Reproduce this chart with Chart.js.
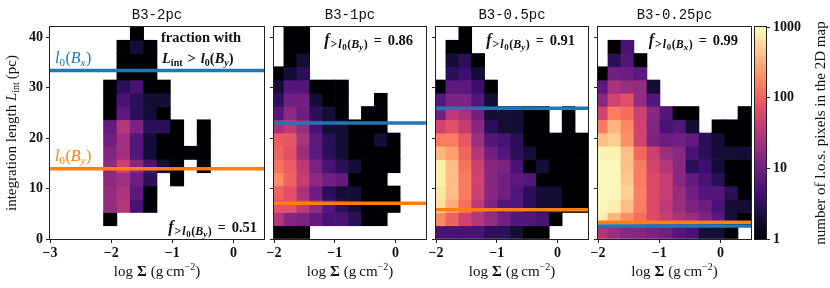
<!DOCTYPE html>
<html>
<head>
<meta charset="utf-8">
<script src="https://cdn.jsdelivr.net/npm/chart.js@4.4.0/dist/chart.umd.min.js"></script>
<style>
  html, body { margin: 0; padding: 0; background: #fff; }
  #wrap { position: relative; width: 830px; height: 288px; }
  #wrap canvas { position: absolute; left: 0; top: 0; }
</style>
</head>
<body>
<div id="wrap">
  <canvas id="p0" width="830" height="288"></canvas>
  <canvas id="p1" width="830" height="288"></canvas>
  <canvas id="p2" width="830" height="288"></canvas>
  <canvas id="p3" width="830" height="288"></canvas>
  <canvas id="cb" width="830" height="288"></canvas>
</div>
<script>
// panel setup
var panelTitles = ['B3-2pc', 'B3-1pc', 'B3-0.5pc', 'B3-0.25pc'];
var xMin = [-3, -2, -2, -2];
var xMax = [0.5, 0.5, 0.5, 0.5];
var xTicks = [[-3, -2, -1, 0], [-2, -1, 0], [-2, -1, 0], [-2, -1, 0]];
var yTicks = [0, 10, 20, 30, 40];
var yMax = 42;
var cbTicks = [1, 10, 100, 1000];

// histogram bins: left edge of the first stored column, column width, row height
var xBinStart = [-2.125, -2.05, -2.05, -2.05];
var xBinWidth = [0.21875, 0.2125, 0.2125, 0.2125];
var yBinWidth = 2.625;

// horizontal reference lengths (pc)
var lBx = [33.4, 23.0, 25.9, 2.6];
var lBy = [13.9, 7.1, 5.8, 3.3];
var fractions = ['0.51', '0.86', '0.91', '0.99'];
var fracSub = ['y', 'y', 'y', 'x'];

// pixel counts, row 0 = bottom (0 = empty)
var counts2pc = [
  [0, 0, 0, 0, 0, 0, 0, 0],
  [1, 0, 0, 0, 0, 0, 0, 0],
  [18, 30, 5, 1, 0, 0, 0, 0],
  [18, 28, 7, 1, 0, 0, 0, 0],
  [16, 22, 9, 3, 0, 1, 0, 0],
  [16, 45, 14, 5, 2, 1, 0, 1],
  [13, 22, 6, 2, 1, 1, 1, 1],
  [10, 22, 6, 2, 1, 1, 0, 1],
  [8, 30, 12, 3, 3, 1, 0, 1],
  [1, 7, 3, 2, 1, 0, 0, 0],
  [1, 5, 3, 2, 2, 0, 0, 0],
  [1, 3, 5, 1, 1, 0, 0, 0],
  [0, 1, 1, 1, 0, 0, 0, 0],
  [0, 1, 1, 1, 0, 0, 0, 0],
  [0, 1, 2, 1, 0, 0, 0, 0],
  [0, 0, 1, 0, 0, 0, 0, 0]
];
var counts1pc = [
  [1, 1, 1, 0, 0, 0, 0, 0, 0, 0],
  [30, 14, 12, 8, 5, 5, 3, 1, 1, 0],
  [70, 70, 35, 16, 6, 3, 2, 1, 1, 1],
  [100, 70, 25, 9, 3, 2, 2, 1, 1, 1],
  [190, 100, 40, 16, 10, 8, 1, 1, 1, 0],
  [130, 90, 35, 11, 5, 3, 2, 1, 1, 1],
  [100, 70, 20, 7, 3, 2, 1, 1, 1, 1],
  [90, 80, 25, 7, 3, 2, 1, 1, 2, 1],
  [25, 35, 18, 5, 2, 2, 1, 1, 1, 0],
  [6, 16, 9, 3, 2, 1, 0, 1, 1, 0],
  [3, 10, 10, 2, 1, 1, 0, 0, 1, 0],
  [2, 6, 6, 1, 1, 1, 0, 0, 0, 0],
  [1, 2, 3, 0, 0, 0, 0, 0, 0, 0],
  [0, 1, 2, 0, 0, 0, 0, 0, 0, 0],
  [0, 1, 1, 0, 0, 0, 0, 0, 0, 0],
  [0, 1, 1, 0, 0, 0, 0, 0, 0, 0]
];
var counts05pc = [
  [5, 5, 5, 5, 3, 3, 2, 1, 1, 0, 0, 0],
  [180, 100, 50, 30, 18, 10, 6, 6, 5, 1, 0, 0],
  [600, 300, 120, 35, 12, 6, 6, 3, 2, 2, 1, 1],
  [700, 400, 150, 45, 15, 10, 6, 3, 2, 2, 1, 1],
  [800, 400, 150, 50, 15, 10, 7, 6, 1, 1, 1, 1],
  [800, 400, 130, 45, 15, 12, 5, 1, 2, 1, 1, 1],
  [350, 250, 100, 30, 10, 6, 3, 2, 1, 1, 1, 1],
  [150, 150, 80, 20, 6, 5, 3, 1, 1, 1, 1, 1],
  [50, 70, 40, 15, 3, 2, 2, 1, 1, 0, 1, 0],
  [10, 35, 25, 10, 2, 2, 2, 1, 1, 0, 1, 0],
  [6, 12, 12, 6, 2, 0, 0, 0, 0, 0, 0, 0],
  [1, 7, 7, 4, 1, 0, 0, 0, 0, 0, 0, 0],
  [0, 3, 4, 2, 0, 0, 0, 0, 0, 0, 0, 0],
  [0, 2, 3, 1, 0, 0, 0, 0, 0, 0, 0, 0],
  [0, 1, 1, 0, 0, 0, 0, 0, 0, 0, 0, 0],
  [0, 0, 1, 0, 0, 0, 0, 0, 0, 0, 0, 0]
];
var counts025pc = [
  [30, 20, 15, 14, 12, 10, 6, 5, 2, 2, 1, 0],
  [800, 350, 200, 120, 60, 40, 25, 20, 12, 7, 2, 1],
  [900, 800, 400, 150, 60, 35, 20, 12, 9, 5, 2, 2],
  [900, 900, 500, 160, 60, 40, 20, 10, 6, 6, 3, 1],
  [900, 900, 450, 150, 60, 40, 15, 8, 5, 3, 1, 1],
  [900, 900, 400, 150, 50, 30, 15, 3, 4, 2, 1, 1],
  [850, 850, 400, 110, 45, 20, 15, 5, 3, 2, 2, 2],
  [400, 500, 200, 50, 12, 9, 10, 8, 3, 2, 1, 1],
  [150, 350, 180, 50, 13, 5, 6, 2, 0, 1, 1, 1],
  [50, 150, 120, 45, 15, 6, 1, 1, 0, 0, 0, 1],
  [15, 50, 70, 18, 6, 0, 0, 0, 0, 0, 0, 0],
  [7, 25, 20, 18, 2, 0, 0, 0, 0, 0, 0, 0],
  [1, 10, 9, 7, 0, 0, 0, 0, 0, 0, 0, 0],
  [0, 3, 6, 1, 0, 0, 0, 0, 0, 0, 0, 0],
  [0, 1, 5, 0, 0, 0, 0, 0, 0, 0, 0, 0],
  [0, 0, 0, 0, 0, 0, 0, 0, 0, 0, 0, 0]
];
var panelCounts = [counts2pc, counts1pc, counts05pc, counts025pc];

// plot areas on the page
var areas = [
  { l: 50, r: 264, t: 27, b: 239 },
  { l: 274, r: 426, t: 27, b: 239 },
  { l: 436, r: 588, t: 27, b: 239 },
  { l: 598, r: 751, t: 27, b: 239 }
];
var cbArea = { l: 755, r: 766, t: 27, b: 239 };
var AXW = 40; // room kept for tick labels

var SERIF = '"Liberation Serif", serif';
var INK = '#222';

// magma colormap
var magmaStops = ['#000004', '#140e36', '#3b0f70', '#641a80', '#8c2981', '#b73779',
                  '#de4968', '#f7705c', '#fe9f6d', '#fecf92', '#fcfdbf'];
function hexRgb(h) {
  return [parseInt(h.substr(1, 2), 16), parseInt(h.substr(3, 2), 16), parseInt(h.substr(5, 2), 16)];
}
function magma(t) {
  t = Math.max(0, Math.min(1, t));
  var f = t * (magmaStops.length - 1);
  var i = Math.min(Math.floor(f), magmaStops.length - 2);
  var u = f - i;
  var a = hexRgb(magmaStops[i]), b = hexRgb(magmaStops[i + 1]);
  return 'rgb(' + [0, 1, 2].map(function (k) { return Math.round(a[k] + (b[k] - a[k]) * u); }).join(',') + ')';
}
function cellColor(n) {
  return magma(Math.log10(n) / 3);
}

function buildCells(rows, x0, w) {
  var cells = [];
  rows.forEach(function (row, r) {
    row.forEach(function (n, c) {
      if (n > 0) {
        cells.push({ x: x0 + (c + 0.5) * w, y: [r * yBinWidth, (r + 1) * yBinWidth], n: n });
      }
    });
  });
  return cells;
}

function fmtTick(v) {
  return v < 0 ? '\u2212' + Math.abs(v) : String(v);
}

// draw a row of text pieces with different fonts / offsets
function richWidth(ctx, parts) {
  var w = 0;
  parts.forEach(function (p) {
    ctx.font = p.s + ' ' + p.z + 'px ' + (p.f || SERIF);
    w += ctx.measureText(p.t).width + (p.g || 0);
  });
  return w;
}
function drawRich(ctx, x, y, parts, align) {
  var w = richWidth(ctx, parts);
  if (align === 'right') x -= w;
  if (align === 'center') x -= w / 2;
  ctx.textBaseline = 'alphabetic';
  ctx.textAlign = 'left';
  parts.forEach(function (p) {
    ctx.font = p.s + ' ' + p.z + 'px ' + (p.f || SERIF);
    ctx.fillText(p.t, x, y + (p.dy || 0));
    x += ctx.measureText(p.t).width + (p.g || 0);
  });
}

function fracParts(val, sub) {
  return [
    { t: 'f', s: 'italic bold', z: 16, g: 1 },
    { t: '>', s: 'bold', z: 12, dy: 3, g: 1 },
    { t: 'l', s: 'italic bold', z: 12, dy: 3, g: 0.5 },
    { t: '0', s: 'bold', z: 9, dy: 5, g: 0.5 },
    { t: '(', s: 'bold', z: 12, dy: 3 },
    { t: 'B', s: 'italic bold', z: 12, dy: 3 },
    { t: sub, s: 'italic bold', z: 9, dy: 5, g: 0.5 },
    { t: ')', s: 'bold', z: 12, dy: 3, g: 6 },
    { t: '=', s: 'bold', z: 14, g: 6 },
    { t: val, s: 'bold', z: 14.5 }
  ];
}
function lParts(sub) {
  return [
    { t: 'l', s: 'italic', z: 16 },
    { t: '0', s: 'normal', z: 11, dy: 3, g: 0.5 },
    { t: '(', s: 'normal', z: 16 },
    { t: 'B', s: 'italic', z: 16 },
    { t: sub, s: 'italic', z: 11, dy: 3, g: 0.5 },
    { t: ')', s: 'normal', z: 16 }
  ];
}

function panelText(i) {
  return {
    id: 'panelText' + i,
    afterDraw: function (chart) {
      var ctx = chart.ctx, a = chart.chartArea;
      ctx.save();
      // frame
      ctx.strokeStyle = INK;
      ctx.lineWidth = 1;
      ctx.strokeRect(a.left - 0.5, a.top - 0.5, a.right - a.left + 1, a.bottom - a.top + 1);
      ctx.fillStyle = '#111';
      // title
      ctx.font = '14px "Liberation Mono", monospace';
      ctx.textAlign = 'center';
      ctx.textBaseline = 'middle';
      ctx.fillText(panelTitles[i], (a.left + a.right) / 2, 15);
      // x label
      drawRich(ctx, (a.left + a.right) / 2, 276, [
        { t: 'log', s: 'normal', z: 15, g: 4 },
        { t: '\u03A3', s: 'bold', z: 15, g: 4 },
        { t: '(g', s: 'normal', z: 15, g: 3 },
        { t: 'cm', s: 'normal', z: 15 },
        { t: '\u22122', s: 'normal', z: 10, dy: -6 },
        { t: ')', s: 'normal', z: 15 }
      ], 'center');
      if (i === 0) {
        ctx.fillStyle = '#1f77b4';
        drawRich(ctx, 55, 63, lParts('x'));
        ctx.fillStyle = '#ff7f0e';
        drawRich(ctx, 55, 161, lParts('y'));
        ctx.fillStyle = '#111';
        drawRich(ctx, 161, 42, [{ t: 'fraction with', s: 'bold', z: 14.5 }]);
        drawRich(ctx, 162, 63, [
          { t: 'L', s: 'italic bold', z: 14.5 },
          { t: 'int', s: 'bold', z: 10, dy: 3, g: 5 },
          { t: '>', s: 'bold', z: 14.5, g: 5 },
          { t: 'l', s: 'italic bold', z: 14.5 },
          { t: '0', s: 'bold', z: 10, dy: 3 },
          { t: '(', s: 'bold', z: 14.5 },
          { t: 'B', s: 'italic bold', z: 14.5 },
          { t: 'y', s: 'italic bold', z: 10, dy: 3 },
          { t: ')', s: 'bold', z: 14.5 }
        ]);
        drawRich(ctx, 257, 232, fracParts(fractions[i], fracSub[i]), 'right');
        // y label
        ctx.save();
        ctx.translate(16, (a.top + a.bottom) / 2);
        ctx.rotate(-Math.PI / 2);
        drawRich(ctx, 0, 0, [
          { t: 'integration length ', s: 'normal', z: 15 },
          { t: 'L', s: 'italic', z: 15 },
          { t: 'int', s: 'normal', z: 10, dy: 3, g: 3 },
          { t: '(pc)', s: 'normal', z: 15 }
        ], 'center');
        ctx.restore();
      } else {
        drawRich(ctx, a.right - 13, 45, fracParts(fractions[i], fracSub[i]), 'right');
      }
      ctx.restore();
    }
  };
}

function makePanel(i) {
  var A = areas[i];
  var tickFont = { family: SERIF, size: 14, weight: 'bold' };
  new Chart(document.getElementById('p' + i), {
    type: 'bar',
    data: {
      datasets: [
        {
          type: 'line',
          data: [{ x: xMin[i], y: lBy[i] }, { x: xMax[i], y: lBy[i] }],
          borderColor: '#ff7f0e', borderWidth: 3.5, pointRadius: 0, borderCapStyle: 'butt'
        },
        {
          type: 'line',
          data: [{ x: xMin[i], y: lBx[i] }, { x: xMax[i], y: lBx[i] }],
          borderColor: '#1f77b4', borderWidth: 3.5, pointRadius: 0, borderCapStyle: 'butt'
        },
        {
          data: buildCells(panelCounts[i], xBinStart[i], xBinWidth[i]),
          backgroundColor: function (c) { return c.raw ? cellColor(c.raw.n) : 'rgba(0,0,0,0)'; },
          borderWidth: 0,
          barPercentage: 1,
          categoryPercentage: 1,
          clip: 0
        }
      ]
    },
    options: {
      responsive: false,
      animation: false,
      devicePixelRatio: 1,
      events: [],
      layout: { padding: { left: A.l - AXW, top: A.t, right: 830 - A.r, bottom: 288 - A.b - AXW } },
      plugins: { legend: { display: false }, tooltip: { enabled: false }, title: { display: false } },
      scales: {
        x: {
          type: 'linear', min: xMin[i], max: xMax[i], offset: false,
          afterFit: function (s) { s.height = AXW; },
          afterBuildTicks: function (s) { s.ticks = xTicks[i].map(function (v) { return { value: v }; }); },
          grid: { offset: false, drawOnChartArea: false, drawTicks: true, tickLength: 4, color: INK },
          border: { display: false },
          ticks: { font: tickFont, color: '#111', padding: 2, maxRotation: 0, autoSkip: false, callback: fmtTick }
        },
        y: {
          type: 'linear', min: 0, max: yMax,
          afterFit: function (s) { s.width = AXW; },
          afterBuildTicks: function (s) { s.ticks = yTicks.map(function (v) { return { value: v }; }); },
          grid: { drawOnChartArea: false, drawTicks: true, tickLength: 4, color: INK },
          border: { display: false },
          ticks: { display: i === 0, font: tickFont, color: '#111', padding: 3, callback: fmtTick }
        }
      }
    },
    plugins: [panelText(i)]
  });
}

for (var p = 0; p < 4; p++) makePanel(p);

// colorbar
var cbPlugin = {
  id: 'cbFill',
  beforeDatasetsDraw: function (chart) {
    var ctx = chart.ctx, a = chart.chartArea, ys = chart.scales.y;
    var g = ctx.createLinearGradient(0, a.bottom, 0, a.top);
    for (var k = 0; k <= 30; k++) {
      var v = Math.pow(10, 3 * k / 30);
      g.addColorStop((a.bottom - ys.getPixelForValue(v)) / (a.bottom - a.top), cellColor(v));
    }
    ctx.save();
    ctx.fillStyle = g;
    ctx.fillRect(a.left, a.top, a.right - a.left, a.bottom - a.top);
    ctx.restore();
  },
  afterDraw: function (chart) {
    var ctx = chart.ctx, a = chart.chartArea;
    ctx.save();
    ctx.strokeStyle = INK;
    ctx.lineWidth = 1;
    ctx.strokeRect(a.left - 0.5, a.top - 0.5, a.right - a.left + 1, a.bottom - a.top + 1);
    ctx.fillStyle = '#111';
    ctx.translate(820, (a.top + a.bottom) / 2);
    ctx.rotate(-Math.PI / 2);
    drawRich(ctx, 0, 5, [{ t: 'number of l.o.s. pixels in the 2D map', s: 'normal', z: 15 }], 'center');
    ctx.restore();
  }
};

new Chart(document.getElementById('cb'), {
  type: 'scatter',
  data: { datasets: [{ data: [] }] },
  options: {
    responsive: false,
    animation: false,
    devicePixelRatio: 1,
    events: [],
    layout: { padding: { left: cbArea.l, top: cbArea.t, right: 830 - cbArea.r - AXW, bottom: 288 - cbArea.b } },
    plugins: { legend: { display: false }, tooltip: { enabled: false } },
    scales: {
      x: { display: false, min: 0, max: 1 },
      y: {
        type: 'logarithmic', position: 'right', min: 1, max: 1000,
        afterFit: function (s) { s.width = AXW; },
        afterBuildTicks: function (s) { s.ticks = cbTicks.map(function (v) { return { value: v }; }); },
        grid: { drawOnChartArea: false, drawTicks: true, tickLength: 4, color: INK },
        border: { display: false },
        ticks: { font: { family: SERIF, size: 14, weight: 'bold' }, color: '#111', padding: 3,
                 callback: function (v) { return String(v); } }
      }
    }
  },
  plugins: [cbPlugin]
});
</script>
</body>
</html>
